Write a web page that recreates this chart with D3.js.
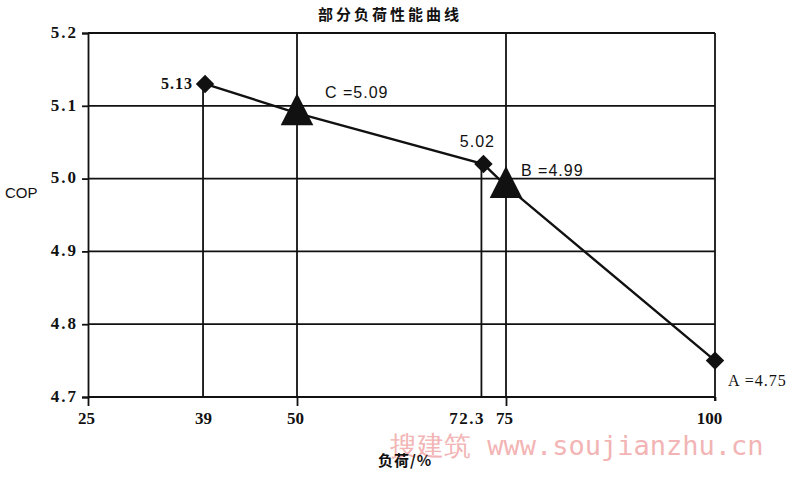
<!DOCTYPE html>
<html>
<head>
<meta charset="utf-8">
<script src="https://cdn.jsdelivr.net/npm/d3@7"></script>
<style>
  html, body { margin: 0; padding: 0; background: #fff; }
  svg { display: block; }
</style>
</head>
<body>
<svg id="chart" width="800" height="477"></svg>
<script>
// ---- data ----
const xTickValues = [25, 39, 50, 72.3, 75, 100];
const yTickValues = [4.7, 4.8, 4.9, 5.0, 5.1, 5.2];
const loads = [39, 50, 72.3, 75, 100];
const copValues = [5.13, 5.09, 5.02, 4.99, 4.75];
const markerTypes = ["diamond", "triangle", "diamond", "triangle", "diamond"];
const pointLabels = ["5.13", "C =5.09", "5.02", "B =4.99", "A =4.75"];
const fullHeightLines = [50, 75];
const titleText = "部分负荷性能曲线";
const yLabelText = "COP";
const xLabelText = "负荷/%";

// ---- layout ----
const W = 800, H = 477;
const margin = { left: 88, right: 85, top: 33, bottom: 80 };
const svg = d3.select("#chart");
const x = d3.scaleLinear().domain([25, 100]).range([margin.left, W - margin.right]);
const y = d3.scaleLinear().domain([4.7, 5.2]).range([H - margin.bottom, margin.top]);
const ink = "#111";
const serif = "'Liberation Serif', 'DejaVu Serif', serif";
const sans = "'Liberation Sans', Arial, sans-serif";
const cjk = "'Noto Sans CJK SC', sans-serif";

// label offsets (styling only)
const labelStyle = [
  { dx: -12, dy: 5, anchor: "end", font: serif, weight: "bold" },
  { dx: 28, dy: -15, anchor: "start", font: sans, weight: "normal" },
  { dx: -6, dy: -17, anchor: "middle", font: sans, weight: "normal" },
  { dx: 15, dy: -10, anchor: "start", font: sans, weight: "normal" },
  { dx: 13, dy: 25, anchor: "start", font: serif, weight: "normal" }
];

// horizontal gridlines
svg.append("g").selectAll("line").data(yTickValues).join("line")
  .attr("x1", x(25)).attr("x2", x(100))
  .attr("y1", d => y(d)).attr("y2", d => y(d))
  .attr("stroke", ink).attr("stroke-width", 1.8);

// right frame
svg.append("line")
  .attr("x1", x(100)).attr("x2", x(100))
  .attr("y1", y(5.2)).attr("y2", y(4.7) + 4)
  .attr("stroke", ink).attr("stroke-width", 1.8);

// full-height vertical lines
svg.append("g").selectAll("line").data(fullHeightLines).join("line")
  .attr("x1", d => x(d)).attr("x2", d => x(d))
  .attr("y1", y(5.2)).attr("y2", y(4.7))
  .attr("stroke", ink).attr("stroke-width", 1.8);

const pts = loads.map((l, i) => ({ x: l, y: copValues[i], m: markerTypes[i], label: pointLabels[i], s: labelStyle[i] }));

// drop lines from diamond points
svg.append("g").selectAll("line")
  .data(pts.filter(p => !fullHeightLines.includes(p.x) && p.x !== 100))
  .join("line")
  .attr("x1", d => x(d.x) - 2).attr("x2", d => x(d.x) - 2)
  .attr("y1", d => y(d.y)).attr("y2", y(4.7))
  .attr("stroke", ink).attr("stroke-width", 1.8);

// y axis
const yAxis = svg.append("g")
  .attr("transform", `translate(${margin.left},0)`)
  .call(d3.axisLeft(y).tickValues(yTickValues).tickSize(6).tickFormat(d3.format(".1f")));
yAxis.select(".domain").attr("stroke", ink).attr("stroke-width", 1.8);
yAxis.selectAll(".tick line").attr("stroke", ink).attr("stroke-width", 1.8);
yAxis.selectAll(".tick text")
  .attr("x", -10).attr("dy", "0.25em")
  .attr("fill", ink)
  .style("font-family", serif).style("font-weight", "bold")
  .style("font-size", "17px").style("letter-spacing", "2px");

// x axis
const xAxis = svg.append("g")
  .attr("transform", `translate(0,${H - margin.bottom})`)
  .call(d3.axisBottom(x).tickValues(xTickValues).tickSize(7).tickFormat(d => String(d)));
xAxis.select(".domain").remove();
xAxis.selectAll(".tick line")
  .attr("stroke", ink).attr("stroke-width", 1.8)
  .attr("y2", d => (d === 39 || d === 72.3) ? 0 : (d === 100 ? 4 : 9));
xAxis.selectAll(".tick text")
  .attr("y", 15)
  .attr("fill", ink)
  .attr("text-anchor", d => d === 72.3 ? "end" : "middle")
  .attr("dx", d => d === 72.3 ? 1 : (d === 100 ? -6 : -2))
  .style("font-family", serif).style("font-weight", "bold")
  .style("font-size", "17px").style("letter-spacing", d => d === 72.3 ? "1.5px" : "0px");
// bottom baseline
svg.append("line")
  .attr("x1", x(25)).attr("x2", x(100))
  .attr("y1", y(4.7)).attr("y2", y(4.7))
  .attr("stroke", ink).attr("stroke-width", 1.8);

// data line
const line = d3.line().x(d => x(d.x)).y(d => y(d.y));
svg.append("path").datum(pts)
  .attr("d", line).attr("fill", "none")
  .attr("stroke", ink).attr("stroke-width", 2.4);

// markers
const diamond = d3.symbol().type(d3.symbolSquare).size(170);
const triangleShape = {
  draw(ctx, size) {
    const h = Math.sqrt(size);
    const w = h * 1.02;
    ctx.moveTo(0, -h * 0.62);
    ctx.lineTo(w / 2, h * 0.38);
    ctx.lineTo(-w / 2, h * 0.38);
    ctx.closePath();
  }
};
const triangle = d3.symbol().type(triangleShape).size(32 * 32);
svg.append("g").selectAll("path").data(pts).join("path")
  .attr("transform", d => `translate(${x(d.x)},${y(d.y)})` + (d.m === "diamond" ? " rotate(45)" : ""))
  .attr("d", d => d.m === "diamond" ? diamond() : triangle())
  .attr("fill", ink);

// point labels
svg.append("g").selectAll("text").data(pts).join("text")
  .attr("x", d => x(d.x) + d.s.dx)
  .attr("y", d => y(d.y) + d.s.dy)
  .attr("text-anchor", d => d.s.anchor)
  .attr("fill", ink)
  .style("font-family", d => d.s.font)
  .style("font-weight", d => d.s.weight)
  .style("font-size", "16px")
  .style("letter-spacing", "1px")
  .text(d => d.label);

// title
svg.append("text")
  .attr("x", 390).attr("y", 20)
  .attr("text-anchor", "middle")
  .attr("fill", ink)
  .style("font-family", cjk).style("font-weight", "bold")
  .style("font-size", "15px").style("letter-spacing", "3px")
  .text(titleText);

// y label
svg.append("text")
  .attr("x", 5).attr("y", 198)
  .attr("fill", ink)
  .style("font-family", sans).style("font-size", "15px")
  .text(yLabelText);

// watermark
svg.append("text")
  .attr("x", 390).attr("y", 455)
  .attr("fill", "#f2b4b4")
  .style("font-family", "'DejaVu Sans Mono', monospace")
  .style("font-size", "27px")
  .text("搜建筑 www.soujianzhu.cn");

// x label
svg.append("text")
  .attr("x", 378).attr("y", 466)
  .attr("fill", ink)
  .style("font-family", cjk).style("font-weight", "bold")
  .style("font-size", "15px").style("letter-spacing", "1px")
  .text(xLabelText);
</script>
</body>
</html>
